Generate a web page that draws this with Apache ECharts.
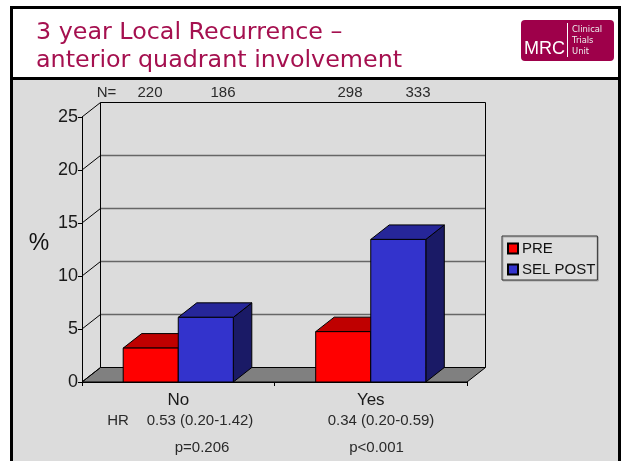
<!DOCTYPE html>
<html style="height: 100%">
<head>
<meta charset="utf-8">
<script src="https://cdn.jsdelivr.net/npm/echarts@6/dist/echarts.min.js"></script>
</head>
<body style="width: 100%; height: 100%; margin: 0; background: #fff;">
<div id="container" style="width: 621px; height: 461px;"></div>
<script>
var categories = ['No', 'Yes'];
var seriesNames = ['PRE', 'SEL POST'];
var preValues = [3.2, 4.75];
var postValues = [6.1, 13.45];
var yTicks = [0, 5, 10, 15, 20, 25];
var nLabels = ['220', '186', '298', '333'];
var hrLabels = ['0.53 (0.20-1.42)', '0.34 (0.20-0.59)'];
var pLabels = ['p=0.206', 'p<0.001'];

// depth of the fake 3d box, in pixels
var DX = 18.5, DY = 14.5;
var BAR_W = 0.286;

function line(x1, y1, x2, y2, color, width) {
	return {
		type: 'line',
		shape: { x1: x1, y1: y1, x2: x2, y2: y2 },
		style: { stroke: color, lineWidth: width }
	};
}

function renderBox(params, api) {
	var cat = api.value(0), val = api.value(1);
	var isPost = params.seriesIndex == 1;
	var band = api.size([1, 0])[0];
	var w = band * BAR_W;
	var base = api.coord([cat, 0]);
	var top = api.coord([cat, val]);
	var x = base[0] + (isPost ? 0 : -w);
	var y0 = base[1], y1 = top[1];
	var cols = isPost ? ['#3333cc', '#262699', '#1a1a66'] : ['#ff0000', '#bf0000', '#800000'];
	function poly(pts, fill) {
		return { type: 'polygon', shape: { points: pts }, style: { fill: fill, stroke: '#000', lineWidth: 1 } };
	}
	return {
		type: 'group',
		children: [
			poly([[x + w, y0], [x + w + DX, y0 - DY], [x + w + DX, y1 - DY], [x + w, y1]], cols[2]),
			poly([[x, y1], [x + DX, y1 - DY], [x + w + DX, y1 - DY], [x + w, y1]], cols[1]),
			poly([[x, y0], [x + w, y0], [x + w, y1], [x, y1]], cols[0])
		]
	};
}

// walls, floor and the grid lines that sit behind the bars
function renderWalls(params, api) {
	var band = api.size([1, 0])[0];
	var a = api.coord([0, 0]), b = api.coord([1, 0]), c = api.coord([0, 25]);
	var left = a[0] - band / 2, right = b[0] + band / 2;
	var kids = [
		{ type: 'polygon', shape: { points: [[left, a[1]], [right, a[1]], [right + DX, a[1] - DY], [left + DX, a[1] - DY]] },
			style: { fill: '#808080', stroke: '#000', lineWidth: 1 } }
	];
	yTicks.forEach(function (t) {
		var p = api.coord([0, t]);
		if (t > 0 && t < 25) {
			kids.push(line(left + DX, p[1] - DY, right + DX, p[1] - DY, '#666', 1.5));
		}
		kids.push(line(left, p[1], left + DX, p[1] - DY, '#000', 1));
	});
	kids.push(line(left + DX, a[1] - DY, left + DX, c[1] - DY, '#000', 1));
	kids.push(line(left + DX, c[1] - DY, right + DX, c[1] - DY, '#000', 1));
	kids.push(line(right + DX, a[1] - DY, right + DX, c[1] - DY, '#000', 1));
	return { type: 'group', children: kids };
}

function txt(s, x, y, size, color, align, family) {
	return {
		type: 'text',
		x: x, y: y,
		style: {
			text: s, fill: color || '#2a2a2a', fontSize: size || 15,
			fontFamily: family || 'Liberation Sans',
			textAlign: align || 'center', textVerticalAlign: 'middle'
		}
	};
}

var myChart = echarts.init(document.getElementById('container'), null, { renderer: 'canvas' });
var option = {
	animation: false,
	backgroundColor: '#fff',
	graphic: [
		{ type: 'rect', z: -10, shape: { x: 11.5, y: 7.5, width: 608, height: 500 }, style: { fill: '#fff', stroke: '#000', lineWidth: 3 } },
		{ type: 'rect', z: -9, shape: { x: 11.5, y: 78.5, width: 608, height: 400 }, style: { fill: '#dcdcdc', stroke: '#000', lineWidth: 3 } },
		txt('3 year Local Recurrence –', 36, 33, 23.8, '#a5104f', 'left', 'DejaVu Sans'),
		txt('anterior quadrant involvement', 36, 60.5, 23.8, '#a5104f', 'left', 'DejaVu Sans'),
		{ type: 'rect', shape: { x: 521, y: 20, width: 93, height: 41, r: 4 }, style: { fill: '#9e004a' } },
		{ type: 'line', shape: { x1: 567.5, y1: 23, x2: 567.5, y2: 57 }, style: { stroke: '#fff', lineWidth: 1 } },
		txt('MRC', 544.5, 49, 18, '#fff', 'center'),
		txt('Clinical', 572, 30, 8.4, '#eee', 'left', 'DejaVu Sans'),
		txt('Trials', 572, 41, 8.4, '#eee', 'left', 'DejaVu Sans'),
		txt('Unit', 572, 52, 8.4, '#eee', 'left', 'DejaVu Sans'),
		txt('%', 39, 244, 23, '#111'),
		txt('N=', 106.5, 92.5),
		txt(nLabels[0], 150, 92.5),
		txt(nLabels[1], 223, 92.5),
		txt(nLabels[2], 350, 92.5),
		txt(nLabels[3], 418, 92.5),
		txt('HR', 118, 420.5),
		txt(hrLabels[0], 200, 420.5),
		txt(hrLabels[1], 381, 420.5),
		txt(pLabels[0], 202, 448),
		txt(pLabels[1], 376.5, 448)
	],
	legend: {
		orient: 'vertical',
		left: 502, top: 236,
		width: 97,
		padding: [5, 2, 3, 5],
		itemGap: 6,
		itemWidth: 10, itemHeight: 10,
		backgroundColor: '#dcdcdc',
		borderColor: '#333', borderWidth: 1,
		shadowColor: '#aaa', shadowOffsetX: 1, shadowOffsetY: 1,
		textStyle: { fontFamily: 'Liberation Sans', fontSize: 15, color: '#111', padding: [0, 0, 0, -1] },
		data: seriesNames.map(function (n) { return { name: n, icon: 'rect' }; })
	},
	grid: { left: 82, top: 117, width: 385, height: 265 },
	xAxis: {
		type: 'category',
		data: categories,
		axisLine: { lineStyle: { color: '#000', width: 1 } },
		axisTick: { show: true, length: 4, lineStyle: { color: '#000' } },
		axisLabel: { color: '#1a1a1a', fontSize: 17, fontFamily: 'Liberation Sans', margin: 10 },
		z: 5
	},
	yAxis: {
		type: 'value',
		min: 0, max: 25, interval: 5,
		axisLine: { show: true, lineStyle: { color: '#000', width: 1 } },
		axisTick: { show: true, length: 4, lineStyle: { color: '#000' } },
		axisLabel: { color: '#1a1a1a', fontSize: 18, fontFamily: 'Liberation Sans', margin: 4 },
		splitLine: { show: false },
		z: 5
	},
	series: [
		{
			name: seriesNames[0], type: 'custom', renderItem: renderBox, z: 3,
			encode: { x: 0, y: 1 },
			itemStyle: { color: '#ff0000', borderColor: '#000', borderWidth: 1 },
			data: preValues.map(function (v, i) { return [i, v]; })
		},
		{
			name: seriesNames[1], type: 'custom', renderItem: renderBox, z: 4,
			encode: { x: 0, y: 1 },
			itemStyle: { color: '#3333cc', borderColor: '#000', borderWidth: 1 },
			data: postValues.map(function (v, i) { return [i, v]; })
		},
		{
			type: 'custom', renderItem: renderWalls, z: 1, silent: true,
			data: [[0, 0]],
			encode: { x: 0, y: 1 }
		}
	]
};
myChart.setOption(option);
</script>
</body>
</html>
